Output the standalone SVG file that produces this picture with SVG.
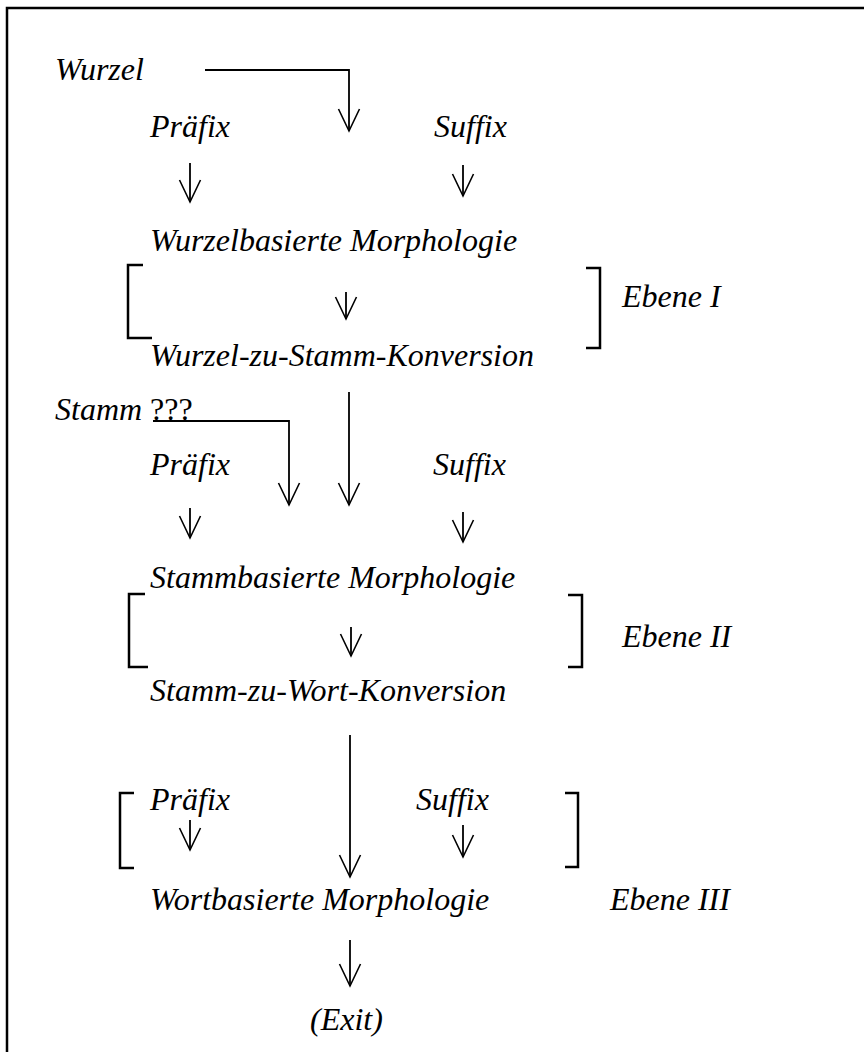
<svg xmlns="http://www.w3.org/2000/svg" width="864" height="1052" viewBox="0 0 864 1052">
<style>
text{font-family:"Liberation Serif","Times New Roman",serif;font-size:32px;font-style:italic;fill:#000}
.up{font-style:normal}
.con{fill:none;stroke:#000;stroke-width:1.8}
.br{fill:none;stroke:#000;stroke-width:2.5}
.frame{fill:none;stroke:#000;stroke-width:2.5}
</style>
<defs>
<marker id="ah" viewBox="-24 -12 26 24" refX="0" refY="0" markerWidth="26" markerHeight="24" markerUnits="userSpaceOnUse" orient="auto">
<path d="M-22,-10.5 L0,0 L-22,10.5" fill="none" stroke="#000" stroke-width="1.6"/>
</marker>
</defs>
<rect width="864" height="1052" fill="#fff"/>
<path class="frame" d="M7,1052 V8 H864"/>

<g id="wurzel"><text x="55" y="80">Wurzel</text></g>
<g id="praefix1"><text x="150" y="137">Präfix</text></g>
<g id="suffix1"><text x="434" y="137">Suffix</text></g>
<g id="wurzelbasiert"><text x="150" y="251">Wurzelbasierte Morphologie</text></g>
<g id="ebene1"><text x="622" y="307">Ebene I</text></g>
<g id="w2s"><text x="150" y="366">Wurzel-zu-Stamm-Konversion</text></g>
<g id="stamm"><text x="55" y="420">Stamm <tspan class="up">???</tspan></text></g>
<g id="praefix2"><text x="150" y="475">Präfix</text></g>
<g id="suffix2"><text x="433" y="475">Suffix</text></g>
<g id="stammbasiert"><text x="150" y="588">Stammbasierte Morphologie</text></g>
<g id="ebene2"><text x="622" y="647">Ebene II</text></g>
<g id="s2w"><text x="150" y="701">Stamm-zu-Wort-Konversion</text></g>
<g id="praefix3"><text x="150" y="810">Präfix</text></g>
<g id="suffix3"><text x="416" y="810">Suffix</text></g>
<g id="wortbasiert"><text x="150" y="910">Wortbasierte Morphologie</text></g>
<g id="ebene3"><text x="610" y="910">Ebene III</text></g>
<g id="exit"><text x="310" y="1030">(Exit)</text></g>

<g id="brackets">
<path class="br" d="M143,265 H128 V338 H152"/>
<path class="br" d="M586,268 H600 V348 H586"/>
<path class="br" d="M145,594 H129 V667 H148"/>
<path class="br" d="M568,595 H582 V667 H568"/>
<path class="br" d="M134,793 H120 V868 H134"/>
<path class="br" d="M565,793 H578 V867 H565"/>
</g>

<g id="connectors">
<path class="con" d="M205,70 H349 V131" marker-end="url(#ah)"/>
<path class="con" d="M190,163 V202" marker-end="url(#ah)"/>
<path class="con" d="M463,165 V196" marker-end="url(#ah)"/>
<path class="con" d="M346,292 V319" marker-end="url(#ah)"/>
<path class="con" d="M153,421 H289 V505" marker-end="url(#ah)"/>
<path class="con" d="M349,392 V505" marker-end="url(#ah)"/>
<path class="con" d="M190,508 V538" marker-end="url(#ah)"/>
<path class="con" d="M463,512 V542" marker-end="url(#ah)"/>
<path class="con" d="M351,627 V656" marker-end="url(#ah)"/>
<path class="con" d="M350,735 V877" marker-end="url(#ah)"/>
<path class="con" d="M190,820 V850" marker-end="url(#ah)"/>
<path class="con" d="M463,825 V857" marker-end="url(#ah)"/>
<path class="con" d="M350,940 V986" marker-end="url(#ah)"/>
</g>
</svg>
